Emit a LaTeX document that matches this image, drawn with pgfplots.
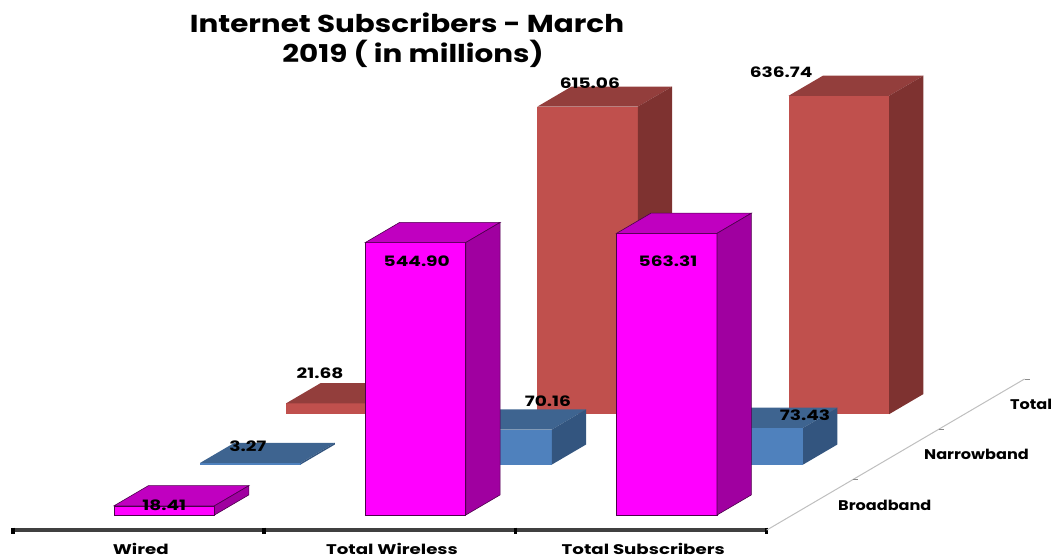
\documentclass[border=0pt]{standalone}
\usepackage{fontspec}
\usepackage{pgfplots}
\pgfplotsset{compat=1.18}
\setmainfont{Poppins}
\newfontfamily\titlefont[FakeStretch=1.2]{Poppins}
\newfontfamily\valfont[FakeStretch=1.3]{Poppins}
\newfontfamily\rowfont[FakeStretch=1.15]{Poppins}

\definecolor{magF}{HTML}{FF00FF}
\definecolor{magT}{HTML}{C000C0}
\definecolor{magS}{HTML}{A000A0}
\definecolor{bluF}{HTML}{4F81BD}
\definecolor{bluT}{HTML}{3E6490}
\definecolor{bluS}{HTML}{33557F}
\definecolor{redF}{HTML}{C0504D}
\definecolor{redT}{HTML}{933E3C}
\definecolor{redS}{HTML}{7E3230}

% one bar: x, row, value, colour prefix, edge colour
\newcommand{\cuboid}[5]{%
  \pgfmathsetmacro{\xa}{#1-0.2}%
  \pgfmathsetmacro{\xb}{#1+0.2}%
  \pgfmathsetmacro{\yb}{#2+0.4}%
  \addplot3[fill=#4F, draw=#5, mark=none, line width=0.6pt] coordinates
    {(\xa,#2,0) (\xb,#2,0) (\xb,#2,#3) (\xa,#2,#3)} --cycle;
  \addplot3[fill=#4T, draw=#5, mark=none, line width=0.6pt] coordinates
    {(\xa,#2,#3) (\xb,#2,#3) (\xb,\yb,#3) (\xa,\yb,#3)} --cycle;
  \addplot3[fill=#4S, draw=#5, mark=none, line width=0.6pt] coordinates
    {(\xb,#2,0) (\xb,\yb,0) (\xb,\yb,#3) (\xb,#2,#3)} --cycle;
}
\newcommand{\val}[3]{\node[font=\valfont\fontsize{14.3}{14}\selectfont\bfseries] at (axis cs:#1,0,#2) {#3};}
\newcommand{\rowlab}[2]{\node[font=\rowfont\fontsize{14}{14}\selectfont\bfseries, anchor=west, xshift=25pt] at (axis cs:2.5,#1,0) {#2};}

\begin{document}
\begin{tikzpicture}
\begin{axis}[
  disabledatascaling,
  x={(251.25pt,0pt)}, y={(86pt,50.4pt)}, z={(0pt,0.5pt)},
  xmin=-0.5, xmax=2.5, ymin=-0.3, ymax=2.7, zmin=0, zmax=700,
  clip=false,
  axis x line=bottom, hide y axis, hide z axis,
  xtick={0,1,2},
  xticklabels={Wired,Total Wireless,Total Subscribers},
  major tick length=0pt,
  x axis line style={line width=3.5pt, draw=black!75, -},
  xticklabel style={font=\valfont\fontsize{14}{14}\selectfont\bfseries, yshift=-9.5pt, xshift=7.5pt},
]
% back row
\cuboid{0}{2}{21.68}{red}{none}
\cuboid{1}{2}{615.06}{red}{none}
\cuboid{2}{2}{636.74}{red}{none}
% middle row
\cuboid{0}{1}{3.27}{blu}{none}
\cuboid{1}{1}{70.16}{blu}{none}
\cuboid{2}{1}{73.43}{blu}{none}
% front row
\cuboid{0}{0}{18.41}{mag}{black!70!magF}
\cuboid{1}{0}{544.90}{mag}{black!70!magF}
\cuboid{2}{0}{563.31}{mag}{black!70!magF}

% category ticks on the floor edge
\addplot3[black, line width=3.5pt, mark=none] coordinates {(-0.5,-0.3,5) (-0.5,-0.3,-8)};
\addplot3[black, line width=3.5pt, mark=none] coordinates {(0.5,-0.3,5) (0.5,-0.3,-8)};
\addplot3[black, line width=3.5pt, mark=none] coordinates {(1.5,-0.3,5) (1.5,-0.3,-8)};
\addplot3[black, line width=3.5pt, mark=none] coordinates {(2.5,-0.3,5) (2.5,-0.3,-8)};

% row axis on the floor's right side
\addplot3[black!25, line width=1pt, mark=none] coordinates {(2.5,-0.3,0) (2.5,2.7,0)};
\addplot3[black!45, line width=0.8pt, mark=none] coordinates {(2.5,0.7,0) (2.52,0.7,0)};
\addplot3[black!45, line width=0.8pt, mark=none] coordinates {(2.5,1.7,0) (2.52,1.7,0)};
\addplot3[black!45, line width=0.8pt, mark=none] coordinates {(2.5,2.7,0) (2.52,2.7,0)};
\rowlab{0.2}{Broadband}
\rowlab{1.2}{Narrowband}
\rowlab{2.2}{Total}

\val{0}{20}{18.41}
\val{0.333}{138}{3.27}
\val{0.62}{284}{21.68}
\val{1.527}{228}{70.16}
\val{2.55}{200}{73.43}
\val{1.694}{864}{615.06}
\val{2.455}{886}{636.74}
\val{1.005}{508}{544.90}
\val{2.005}{508}{563.31}

\node[font=\titlefont\fontsize{24.5}{30}\selectfont\bfseries, align=center] at (axis cs:0.966,0,950)
  {Internet Subscribers - March\\\hspace*{12pt}2019 ( in millions)};

\coordinate (nw) at (axis cs:-0.6537,0,1030);
\coordinate (se) at (axis cs:3.565,0,-88);
\end{axis}
\pgfresetboundingbox
\path[use as bounding box] (nw) rectangle (se);
\end{tikzpicture}
\end{document}
